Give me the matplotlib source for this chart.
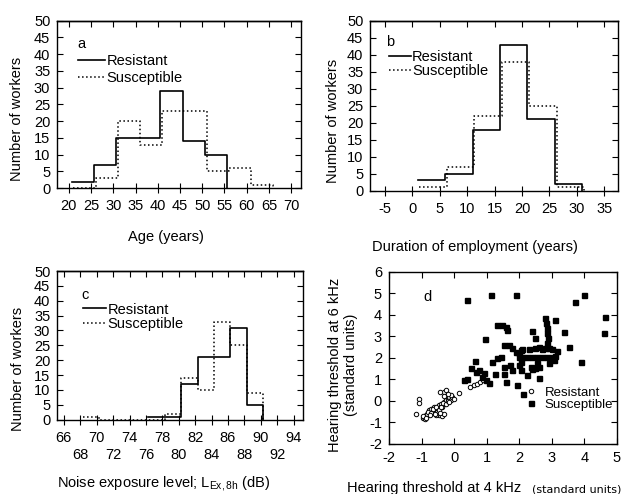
import numpy as np
import matplotlib
matplotlib.use("Agg")
import matplotlib.pyplot as plt
from matplotlib.ticker import MultipleLocator, FixedLocator, NullFormatter

plt.rcParams['font.family'] = ['Liberation Sans', 'DejaVu Sans']
plt.rcParams['font.size'] = 10.5
plt.rcParams['axes.unicode_minus'] = False
plt.rcParams['mathtext.fontset'] = 'custom'
plt.rcParams['mathtext.rm'] = 'Liberation Sans'
plt.rcParams['mathtext.it'] = 'Liberation Sans'

############################## data ##############################
# panel a - age
age_res_edges = [20.6, 25.6, 30.6, 35.6, 40.6, 45.6, 50.6, 55.6]
age_res       = [2, 7, 15, 15, 29, 14, 10]
age_sus_edges = [21, 26, 31, 36, 41, 46, 51, 56, 61, 66]
age_sus       = [0, 3, 20, 13, 23, 23, 5, 6, 1]

# panel b - duration of employment
dur_res_edges = [1, 6, 11, 16, 21, 26, 31]
dur_res       = [3, 5, 18, 43, 21, 2]
dur_sus_edges = [1.3, 6.3, 11.3, 16.3, 21.3, 26.3, 31.3]
dur_sus       = [1, 7, 22, 38, 25, 1]

# panel c - noise exposure level
noise_res_edges = [76.3, 78.3, 80.3, 82.3, 84.3, 86.3, 88.3, 90.3]
noise_res       = [1, 1, 12, 21, 21, 31, 5]
noise_sus_edges = [68.3, 70.3, 72.3, 74.3, 76.3, 78.3, 80.3, 82.3, 84.3, 86.3, 88.3, 90.3]
noise_sus       = [1, 0, 0, 0, 0, 2, 14, 10, 33, 25, 9]

# panel d - hearing thresholds (standard units)
res_x = [-1.08, -1.08, -1.17, -0.97, -0.92, -0.87, -0.82, -0.76, -0.71, -0.66, -0.61, -0.56,
         -0.51, -0.46, -0.41, -0.36, -0.31, -0.26, -0.20, -0.15, -0.10, -0.05, -0.31, -0.26,
         -0.46, -0.36, -0.51, 0.15, 0.50, 0.60, 0.70, 0.80, 0.90, -0.57, -0.31, -0.42,
         -0.90, -0.95, -0.80, -0.70, -0.65, -0.55, -0.45, -0.40, -0.35, -0.25, -0.20, -0.15,
         -0.10, -0.20, 0.00, -0.30, -0.60, -0.75, -0.85, -0.42]
res_y = [0.08, -0.10, -0.62, -0.82, -0.75, -0.67, -0.60, -0.45, -0.37, -0.53, -0.29, -0.45,
         -0.37, -0.21, -0.14, -0.29, -0.06, 0.02, 0.10, 0.18, 0.02, 0.18, 0.41, 0.49,
         -0.67, -0.70, -0.53, 0.37, 0.64, 0.72, 0.80, 0.87, 0.95, -0.68, -0.60, 0.40,
         -0.85, -0.70, -0.50, -0.55, -0.40, -0.30, -0.45, -0.30, -0.10, -0.15, 0.00, -0.05,
         0.25, 0.30, 0.10, 0.20, -0.60, -0.65, -0.78, -0.55]
sus_x = [0.41, 1.12, 1.89, 4.00, 3.72, 4.64, 4.59, 3.11, 3.39, 3.54, 3.90,
         1.33, 1.48, 1.60, 1.62, 0.94, 0.64, 0.51, 1.17, 1.33, 1.43, 0.31, 0.41,
         0.66, 0.76, 0.92, 0.87, 0.97, 1.07, 1.25, 1.53, 1.60, 1.53,
         2.80, 2.82, 2.84, 2.86, 2.88, 2.85, 2.80, 2.40, 2.50,
         1.53, 1.68, 1.78, 1.89, 1.99, 2.04, 1.73, 1.78, 1.94,
         1.99, 2.09, 2.24, 2.40, 2.55, 2.70, 2.85, 3.01, 3.11, 3.16,
         2.04, 1.99, 2.09, 2.29, 2.50, 2.60, 2.70, 2.91, 3.01,
         2.04, 2.24, 2.35, 2.40, 2.50, 2.60, 2.55, 2.62, 2.91, 3.06, 2.13]
sus_y = [4.70, 4.94, 4.94, 4.94, 4.58, 3.90, 3.18, 3.77, 3.21, 2.52, 1.82,
         3.54, 3.54, 3.45, 3.28, 2.90, 1.87, 1.51, 1.82, 1.98, 2.03, 0.97, 1.00,
         1.36, 1.43, 1.28, 1.12, 0.97, 0.81, 1.25, 1.25, 0.89, 1.59,
         3.85, 3.62, 3.38, 3.15, 2.92, 2.68, 2.45, 3.23, 2.92,
         2.60, 2.60, 2.45, 2.29, 2.21, 2.37, 1.67, 1.43, 0.73,
         2.06, 2.06, 2.06, 2.06, 2.06, 2.06, 2.06, 2.06, 2.10, 2.30,
         1.82, 1.67, 2.40, 2.40, 2.45, 2.50, 2.40, 2.45, 2.40,
         1.43, 1.20, 1.59, 1.47, 1.51, 1.59, 1.75, 1.05, 1.75, 1.90, 0.33]

############################## plotting ##############################
fig = plt.figure(figsize=(6.26, 4.94), dpi=100)
ax_a = fig.add_axes([0.0915, 0.619, 0.390, 0.339])
ax_b = fig.add_axes([0.5915, 0.614, 0.396, 0.344])
ax_c = fig.add_axes([0.0915, 0.1504, 0.392, 0.301])
ax_d = fig.add_axes([0.6214, 0.1018, 0.364, 0.3476])


def style_hist(ax, xlim, xticks):
    ax.set_xlim(*xlim)
    ax.set_ylim(0, 50)
    ax.set_yticks(np.arange(0, 51, 5))
    ax.set_xticks(xticks)
    ax.tick_params(axis='x', direction='inout', length=6.7, width=0.8, pad=4.5)
    ax.tick_params(axis='y', direction='in', length=4.3, width=0.8, pad=5, right=True)
    top = ax.secondary_xaxis('top')
    top.set_xticks(xticks)
    top.tick_params(direction='in', length=4.3, width=0.8, labeltop=False)
    top.spines['top'].set_linewidth(1.0)
    for s in ax.spines.values():
        s.set_linewidth(1.0)
    ax.set_ylabel("Number of workers")


def draw_steps(ax, res_edges, res, sus_edges, sus, leg_xy, hl, ls):
    ax.step(res_edges, res + [0], where='post', color='black', lw=1.2, label='Resistant')
    ax.step(sus_edges, sus + [0], where='post', color='black', lw=1.1, ls=':', label='Susceptible')
    ax.legend(loc='upper left', bbox_to_anchor=leg_xy, frameon=False, borderpad=0,
              borderaxespad=0, handlelength=hl, handletextpad=0.1, labelspacing=ls)


# a
draw_steps(ax_a, age_res_edges, age_res, age_sus_edges, age_sus, (0.086, 0.80), 1.85, 0.22)
style_hist(ax_a, (17.4, 72.3), np.arange(20, 71, 5))
ax_a.text(0.082, 0.864, "a", transform=ax_a.transAxes, ha='left', va='center')
ax_a.set_xlabel("Age (years)")
ax_a.xaxis.set_label_coords(0.444, -0.25)
ax_a.yaxis.set_label_coords(-0.137, 0.416)

# b
draw_steps(ax_b, dur_res_edges, dur_res, dur_sus_edges, dur_sus, (0.075, 0.825), 1.5, 0.0)
style_hist(ax_b, (-7.6, 37.5), np.arange(-5, 36, 5))
ax_b.text(0.062, 0.876, "b", transform=ax_b.transAxes, ha='left', va='center')
ax_b.set_xlabel("Duration of employment (years)")
ax_b.xaxis.set_label_coords(0.4235, -0.29)
ax_b.yaxis.set_label_coords(-0.122, 0.41)

# c
draw_steps(ax_c, noise_res_edges, noise_res, noise_sus_edges, noise_sus, (0.1035, 0.788), 1.6, 0.06)
style_hist(ax_c, (65.2, 95.1), np.arange(66, 95, 4))
ax_c.xaxis.set_minor_locator(FixedLocator(np.arange(68, 93, 4)))
ax_c.xaxis.set_minor_formatter(lambda v, p: f"{v:.0f}")
ax_c.tick_params(axis='x', which='minor', direction='inout', length=6.7, width=0.8, pad=17.2)
top_c = ax_c.child_axes[0]
top_c.xaxis.set_minor_locator(FixedLocator(np.arange(68, 93, 4)))
top_c.xaxis.set_minor_formatter(NullFormatter())
top_c.tick_params(which='minor', direction='in', length=4.3, width=0.8, labeltop=False)
ax_c.text(0.099, 0.84, "c", transform=ax_c.transAxes, ha='left', va='center')
ax_c.set_xlabel(r"Noise exposure level; L$_{\mathrm{Ex,8h}}$ (dB)")
ax_c.xaxis.label.set_va('baseline')
ax_c.xaxis.set_label_coords(0.435, -0.45)
ax_c.yaxis.set_label_coords(-0.13, 0.343)

# d
ax_d.plot(res_x, res_y, 'o', ms=3.2, mfc='white', mec='black', mew=0.7, ls='none', label='Resistant')
ax_d.plot(sus_x, sus_y, 's', ms=3.6, color='black', ls='none', label='Susceptible')
ax_d.set_xlim(-2, 5)
ax_d.set_ylim(-2, 6)
ax_d.xaxis.set_major_locator(MultipleLocator(1))
ax_d.yaxis.set_major_locator(MultipleLocator(1))
ax_d.tick_params(direction='in', length=4.3, width=0.8, top=True, right=True)
ax_d.tick_params(axis='x', pad=5.2)
ax_d.tick_params(axis='y', pad=5)
for s in ax_d.spines.values():
    s.set_linewidth(1.0)
ax_d.legend(loc='upper left', bbox_to_anchor=(0.607, 0.334), frameon=False, borderpad=0,
            borderaxespad=0, handlelength=0.6, handletextpad=0.7, labelspacing=0.0,
            numpoints=1, fontsize=9.5)
ax_d.text(0.149, 0.854, "d", transform=ax_d.transAxes, ha='left', va='center')
ax_d.set_ylabel("Hearing threshold at 6 kHz\n(standard units)")
ax_d.yaxis.set_label_coords(-0.136, 0.461)
ax_d.text(0.582, -0.283, "Hearing threshold at 4 kHz", transform=ax_d.transAxes,
          ha='right', va='baseline')
ax_d.text(0.626, -0.283, "(standard units)", transform=ax_d.transAxes,
          ha='left', va='baseline', family='DejaVu Sans', fontsize=8)

fig.savefig("out.png", dpi=100)
